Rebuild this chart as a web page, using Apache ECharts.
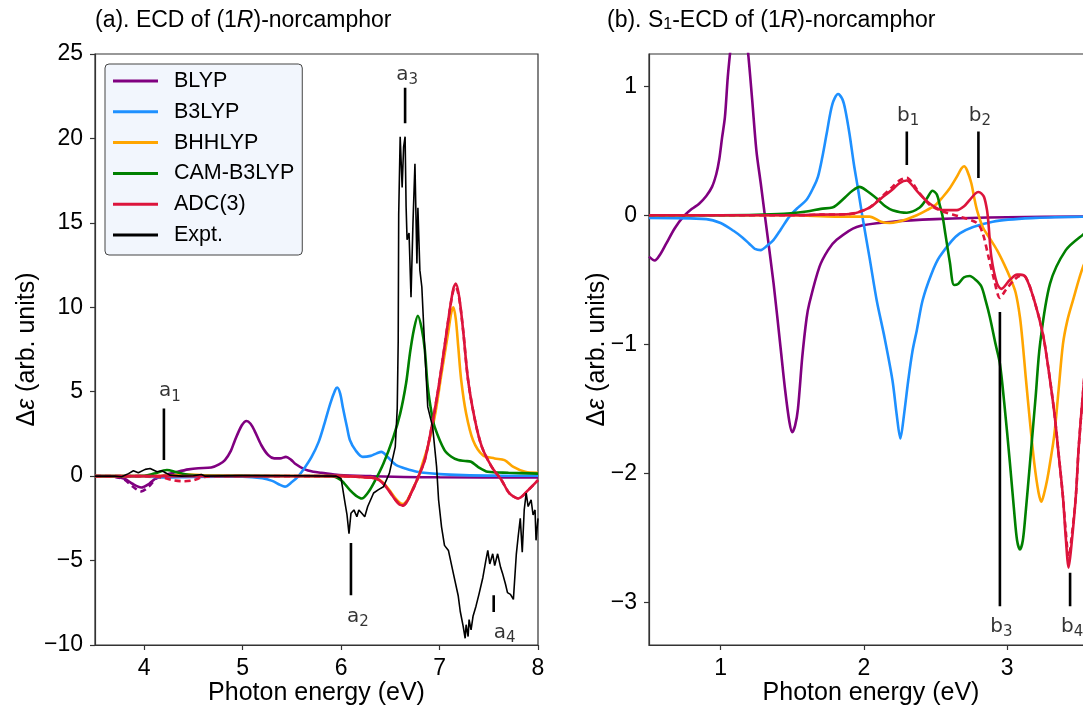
<!DOCTYPE html>
<html><head><meta charset="utf-8">
<script src="https://cdn.jsdelivr.net/npm/echarts@6/dist/echarts.min.js"></script>
<style>html,body{margin:0;padding:0;background:#fff}#c{width:1083px;height:706px}</style>
</head><body><div id="c"></div>
<script>
// ---------- tick values ----------
const xTicksA = [4, 5, 6, 7, 8];
const yTicksA = [-10, -5, 0, 5, 10, 15, 20, 25];
const xTicksB = [1, 2, 3];
const yTicksB = [-3, -2, -1, 0, 1];
const seriesNames = ['BLYP', 'B3LYP', 'BHHLYP', 'CAM-B3LYP', 'ADC(3)', 'Expt.'];

// ---------- panel (a): ECD ----------
const blypA = [[3.5,0],[3.7,-0.03],[3.8,-0.15],[3.88,-0.45],[3.97,-0.67],[4.05,-0.45],[4.12,-0.12],[4.2,0.05],[4.34,0.26],[4.45,0.4],[4.55,0.47],[4.68,0.51],[4.76,0.7],[4.82,0.95],[4.88,1.5],[4.92,2.1],[4.99,3.0],[5.04,3.27],[5.08,3.1],[5.12,2.7],[5.19,1.83],[5.26,1.24],[5.32,1.05],[5.38,1.05],[5.44,1.14],[5.49,0.98],[5.53,0.75],[5.63,0.4],[5.72,0.26],[5.8,0.2],[5.98,0.06],[6.3,0.0],[7,-0.07],[8,-0.08]];
const blypDashA = [[3.7,-0.03],[3.8,-0.2],[3.88,-0.6],[3.97,-0.9],[4.05,-0.6],[4.12,-0.15],[4.2,0.05]];
const b3lypA = [[3.5,0],[4.0,-0.02],[4.2,-0.08],[4.5,-0.05],[5.0,-0.03],[5.2,-0.12],[5.3,-0.28],[5.38,-0.52],[5.43,-0.62],[5.5,-0.35],[5.56,-0.04],[5.63,0.5],[5.7,1.14],[5.77,2.0],[5.83,3.1],[5.89,4.3],[5.94,5.1],[5.96,5.25],[5.99,4.9],[6.02,4.0],[6.06,2.9],[6.09,2.13],[6.15,1.5],[6.22,1.14],[6.3,1.2],[6.36,1.35],[6.41,1.44],[6.47,1.15],[6.52,0.85],[6.56,0.65],[6.65,0.45],[6.77,0.26],[7.0,0.12],[7.24,0.06],[7.6,0.03],[8,0.02]];
const bhhlypA = [[3.5,0],[4.0,0],[4.3,0.05],[4.45,0.1],[4.6,0.05],[5.0,0.02],[6.0,0],[6.2,-0.05],[6.36,-0.14],[6.43,-0.4],[6.49,-0.83],[6.55,-1.3],[6.6,-1.6],[6.63,-1.65],[6.67,-1.45],[6.7,-1.1],[6.74,-0.6],[6.78,-0.14],[6.83,0.8],[6.88,1.73],[6.95,3.5],[7.02,6.07],[7.09,8.6],[7.12,9.7],[7.14,10.0],[7.165,9.3],[7.19,7.65],[7.22,5.68],[7.27,3.71],[7.34,2.13],[7.44,1.24],[7.56,1.05],[7.66,0.95],[7.75,0.55],[7.87,0.26],[8.0,0.2]];
const camA = [[3.5,0],[4.0,0.02],[4.1,0.15],[4.23,0.36],[4.32,0.25],[4.45,0.08],[4.6,0.03],[5.5,0.01],[5.9,0],[6.0,-0.24],[6.09,-0.83],[6.15,-1.15],[6.21,-1.32],[6.27,-1.0],[6.33,-0.43],[6.43,0.75],[6.53,2.3],[6.6,3.7],[6.66,5.5],[6.7,7.3],[6.74,8.7],[6.78,9.5],[6.82,8.7],[6.85,7.5],[6.88,5.3],[6.92,3.7],[6.95,2.92],[7.05,1.54],[7.12,1.15],[7.19,0.95],[7.26,0.9],[7.32,0.85],[7.39,0.55],[7.49,0.26],[7.7,0.2],[8.0,0.15]];
const adcA = [[3.5,0],[4.0,0],[5.0,0],[6.0,0],[6.2,-0.05],[6.36,-0.15],[6.43,-0.45],[6.49,-0.9],[6.55,-1.4],[6.6,-1.7],[6.63,-1.72],[6.67,-1.5],[6.7,-1.15],[6.74,-0.65],[6.78,-0.1],[6.85,0.95],[6.92,2.92],[6.985,5.09],[7.05,7.65],[7.1,9.7],[7.14,11.1],[7.165,11.4],[7.2,10.6],[7.24,8.6],[7.29,5.68],[7.36,3.31],[7.43,1.73],[7.53,0.55],[7.63,-0.24],[7.71,-1.02],[7.8,-1.32],[7.9,-0.83],[8.0,-0.24]];
const adcDashA = [[3.5,0],[4.0,0],[4.2,-0.1],[4.3,-0.25],[4.4,-0.3],[4.5,-0.25],[4.6,-0.05],[4.8,0],[6.0,0],[6.2,-0.05],[6.36,-0.15],[6.43,-0.45],[6.49,-0.9],[6.55,-1.4],[6.6,-1.7],[6.63,-1.75],[6.67,-1.5],[6.7,-1.15],[6.74,-0.65],[6.78,-0.1],[6.85,0.95],[6.92,2.92],[6.985,5.09],[7.05,7.65],[7.1,9.7],[7.14,11.0],[7.165,11.2],[7.2,10.5],[7.24,8.6],[7.29,5.68],[7.36,3.31],[7.43,1.73],[7.53,0.55],[7.63,-0.24],[7.71,-1.02],[7.8,-1.32],[7.9,-0.83],[8.0,-0.24]];
const exptA = [[3.5,0],[3.7,0],[3.77,-0.04],[3.84,0.15],[3.89,0.32],[3.94,0.2],[4.01,0.4],[4.06,0.45],[4.13,0.26],[4.18,0.32],[4.26,0.06],[4.38,0],[4.5,0.02],[4.58,0.1],[4.62,0],[5.0,0.03],[5.5,0.02],[5.95,0.0],[6.0,-0.14],[6.04,-1.6],[6.06,-2.3],[6.08,-3.4],[6.1,-2.2],[6.13,-2.0],[6.16,-2.4],[6.18,-2.0],[6.21,-2.2],[6.24,-2.4],[6.27,-1.8],[6.33,-1.0],[6.38,-0.8],[6.43,-0.63],[6.49,0.16],[6.55,1.73],[6.57,4.0],[6.58,8],[6.585,15.5],[6.6,20.1],[6.62,17.1],[6.635,19.5],[6.65,20.1],[6.66,16],[6.67,14.0],[6.69,14.4],[6.71,10.6],[6.73,15],[6.75,18.5],[6.77,12.6],[6.78,15.9],[6.8,12.2],[6.82,11.2],[6.85,7.5],[6.88,4.1],[6.93,2.9],[6.97,0.55],[6.99,-1.4],[7.02,-3.0],[7.05,-4.1],[7.09,-4.4],[7.14,-5.76],[7.19,-7.1],[7.21,-8.0],[7.24,-8.9],[7.26,-9.6],[7.27,-8.8],[7.29,-9.5],[7.3,-8.5],[7.32,-9.1],[7.34,-8.3],[7.37,-7.7],[7.4,-7.0],[7.44,-6.0],[7.47,-5.0],[7.49,-4.4],[7.51,-5.2],[7.54,-4.6],[7.56,-5.3],[7.59,-4.6],[7.62,-5.4],[7.64,-5.76],[7.67,-6.4],[7.69,-6.9],[7.72,-7.0],[7.75,-7.3],[7.77,-5.5],[7.78,-4.6],[7.8,-3.5],[7.82,-2.5],[7.84,-4.5],[7.86,-2.0],[7.88,-1.0],[7.9,-1.8],[7.93,-1.4],[7.95,-2.3],[7.97,-2.0],[7.98,-3.8],[8.0,-2.5]];

// ---------- panel (b): S1-ECD ----------
const blypB = [[0.5,-0.32],[0.54,-0.35],[0.58,-0.3],[0.62,-0.22],[0.68,-0.1],[0.74,-0.01],[0.8,0.05],[0.85,0.09],[0.9,0.15],[0.94,0.22],[0.97,0.32],[0.99,0.43],[1.01,0.6],[1.03,0.76],[1.05,1.07],[1.07,1.3],[1.1,1.6],[1.13,1.7],[1.16,1.55],[1.19,1.28],[1.22,0.9],[1.25,0.5],[1.28,0.25],[1.31,-0.01],[1.37,-0.53],[1.42,-1.04],[1.45,-1.35],[1.48,-1.6],[1.5,-1.68],[1.52,-1.63],[1.54,-1.5],[1.57,-1.1],[1.6,-0.8],[1.62,-0.68],[1.69,-0.40],[1.75,-0.27],[1.81,-0.19],[1.95,-0.09],[2.2,-0.05],[2.5,-0.03],[3.0,-0.015],[3.6,-0.01]];
const b3lypB = [[0.5,-0.02],[0.9,-0.03],[1.0,-0.06],[1.09,-0.12],[1.15,-0.17],[1.2,-0.22],[1.24,-0.26],[1.28,-0.27],[1.32,-0.24],[1.37,-0.19],[1.42,-0.11],[1.48,-0.01],[1.54,0.06],[1.6,0.12],[1.65,0.22],[1.68,0.3],[1.71,0.45],[1.74,0.63],[1.78,0.86],[1.82,0.94],[1.85,0.9],[1.87,0.82],[1.9,0.63],[1.93,0.4],[1.96,0.2],[1.99,-0.01],[2.04,-0.33],[2.09,-0.66],[2.145,-0.95],[2.2,-1.28],[2.23,-1.55],[2.255,-1.73],[2.28,-1.55],[2.31,-1.28],[2.34,-1.05],[2.37,-0.89],[2.41,-0.66],[2.47,-0.46],[2.53,-0.32],[2.67,-0.14],[2.9,-0.05],[3.2,-0.02],[3.6,-0.01]];
const bhhlypB = [[0.5,0],[1.5,0],[1.8,-0.01],[2.04,-0.01],[2.12,-0.05],[2.18,-0.06],[2.24,-0.05],[2.3,-0.03],[2.37,0],[2.44,0.04],[2.5,0.08],[2.55,0.14],[2.6,0.21],[2.65,0.30],[2.68,0.36],[2.7,0.38],[2.72,0.35],[2.75,0.25],[2.77,0.14],[2.79,0.04],[2.83,-0.09],[2.88,-0.18],[2.93,-0.27],[2.98,-0.38],[3.02,-0.48],[3.06,-0.6],[3.09,-0.79],[3.11,-1.0],[3.13,-1.25],[3.16,-1.6],[3.19,-1.92],[3.22,-2.15],[3.24,-2.22],[3.26,-2.15],[3.28,-2.05],[3.3,-1.92],[3.33,-1.7],[3.36,-1.35],[3.39,-1.0],[3.42,-0.82],[3.46,-0.66],[3.53,-0.40],[3.6,-0.25]];
const camB = [[0.5,0],[1.0,0],[1.4,0.01],[1.6,0.03],[1.7,0.05],[1.78,0.06],[1.81,0.08],[1.87,0.14],[1.92,0.19],[1.97,0.22],[2.02,0.19],[2.09,0.13],[2.15,0.07],[2.2,0.04],[2.3,0.02],[2.39,0.06],[2.44,0.13],[2.48,0.19],[2.51,0.16],[2.53,0.08],[2.55,-0.01],[2.57,-0.15],[2.6,-0.36],[2.63,-0.54],[2.66,-0.53],[2.7,-0.48],[2.74,-0.47],[2.78,-0.5],[2.82,-0.55],[2.85,-0.66],[2.88,-0.79],[2.92,-1.0],[2.95,-1.15],[2.98,-1.45],[3.02,-1.92],[3.05,-2.3],[3.07,-2.52],[3.09,-2.59],[3.11,-2.52],[3.13,-2.3],[3.16,-1.92],[3.2,-1.4],[3.23,-1.0],[3.3,-0.53],[3.41,-0.27],[3.53,-0.15],[3.6,-0.1]];
const adcB = [[0.5,0],[1.5,0],[1.7,0.005],[1.9,0.01],[2.04,0.06],[2.13,0.14],[2.2,0.2],[2.25,0.25],[2.3,0.27],[2.34,0.23],[2.37,0.19],[2.42,0.13],[2.46,0.09],[2.55,0.04],[2.65,0.04],[2.7,0.07],[2.74,0.12],[2.78,0.17],[2.8,0.18],[2.82,0.17],[2.84,0.14],[2.86,0.04],[2.87,-0.06],[2.89,-0.32],[2.93,-0.53],[2.96,-0.57],[3.02,-0.50],[3.07,-0.46],[3.09,-0.46],[3.13,-0.48],[3.19,-0.66],[3.25,-0.92],[3.285,-1.16],[3.33,-1.53],[3.36,-1.85],[3.39,-2.18],[3.41,-2.5],[3.43,-2.73],[3.45,-2.55],[3.48,-2.18],[3.5,-1.8],[3.53,-1.38],[3.56,-1.0],[3.6,-0.65]];
const adcDashB = [[0.5,0],[1.5,0],[1.7,0.005],[1.9,0.01],[2.04,0.06],[2.13,0.15],[2.2,0.22],[2.25,0.27],[2.3,0.29],[2.34,0.25],[2.37,0.2],[2.42,0.13],[2.46,0.08],[2.55,0.03],[2.67,-0.01],[2.79,-0.06],[2.83,-0.14],[2.87,-0.32],[2.91,-0.5],[2.95,-0.64],[2.99,-0.58],[3.05,-0.50],[3.09,-0.47],[3.13,-0.48],[3.19,-0.66],[3.25,-0.92],[3.285,-1.16],[3.33,-1.53],[3.36,-1.85],[3.39,-2.18],[3.41,-2.45],[3.43,-2.65],[3.45,-2.5],[3.48,-2.18],[3.5,-1.8],[3.53,-1.38],[3.56,-1.0],[3.6,-0.65]];

// ---------- annotations (data coordinates) ----------
const annotA = [
  {t:'a', s:'1', x:4.2,  y0:0.95,  y1:4.0,   lx:4.26, ly:5.15},
  {t:'a', s:'2', x:6.1,  y0:-3.96, y1:-7.05, lx:6.17, ly:-8.22},
  {t:'a', s:'3', x:6.65, y0:20.9,  y1:23.0,  lx:6.67, ly:23.9},
  {t:'a', s:'4', x:7.55, y0:-7.05, y1:-8.05, lx:7.66, ly:-9.15}
];
const annotB = [
  {t:'b', s:'1', x:2.30, y0:0.39,  y1:0.65,  lx:2.31, ly:0.787},
  {t:'b', s:'2', x:2.80, y0:0.29,  y1:0.65,  lx:2.81, ly:0.787},
  {t:'b', s:'3', x:2.95, y0:-0.75, y1:-3.03, lx:2.96, ly:-3.17},
  {t:'b', s:'4', x:3.44, y0:-2.77, y1:-3.03, lx:3.455, ly:-3.17}
];

const FONT = 'Liberation Sans, Arial, Helvetica, sans-serif';
const COLORS = {'BLYP':'#800080','B3LYP':'#1e90ff','BHHLYP':'#ffa500','CAM-B3LYP':'#008000','ADC(3)':'#dc143c','Expt.':'#000000'};
const minusFmt = v => (v < 0 ? '\u2212' : '') + Math.abs(v);

function curve(name, data, gi, opt) {
  opt = opt || {};
  const color = COLORS[opt.colorKey || name];
  return {
    type: 'line', name, data, xAxisIndex: gi, yAxisIndex: gi,
    symbol: 'none', showSymbol: false,
    smooth: opt.smooth === undefined ? 0.3 : opt.smooth,
    clip: true,
    lineStyle: {color, width: opt.width || 2.6, type: opt.dash ? [6, 4] : 'solid'},
    itemStyle: {color},
    z: opt.z || 2,
    emphasis: {disabled: true},
    animation: false
  };
}
function annotSeries(list, gi) {
  const out = [];
  list.forEach(a => {
    out.push({
      type: 'line', name: 'annot', data: [[a.x, a.y0], [a.x, a.y1]],
      xAxisIndex: gi, yAxisIndex: gi, symbol: 'none', smooth: false,
      lineStyle: {color: '#000', width: 2.6}, z: 5, animation: false, emphasis: {disabled: true}
    });
  });
  out.push({
    type: 'scatter', name: 'annotLabel', xAxisIndex: gi, yAxisIndex: gi,
    symbolSize: 1, itemStyle: {color: 'rgba(0,0,0,0)'}, z: 6, animation: false,
    data: list.map(a => ({value: [a.lx, a.ly], t: a.t, s: a.s})),
    label: {
      show: true, position: 'inside',
      formatter: p => '{m|' + p.data.t + '}{s|' + p.data.s + '}',
      rich: {
        m: {fontSize: 20, fontFamily: 'DejaVu Sans', color: '#000', verticalAlign: 'bottom', lineHeight: 24},
        s: {fontSize: 15, fontFamily: 'DejaVu Sans', color: '#000', verticalAlign: 'bottom', lineHeight: 24, padding: [0, 0, -3, 0]}
      }
    },
    emphasis: {disabled: true}
  });
  return out;
}

const axisCommon = {
  axisLine: {show: true, onZero: false, lineStyle: {color: '#333', width: 1.2}},
  splitLine: {show: false}
};
function xAx(gi, min, max, ticks) {
  return Object.assign({}, axisCommon, {
    type: 'value', gridIndex: gi, min, max,
    axisTick: {show: true, inside: false, length: 5, lineStyle: {color: '#333', width: 1.2}, customValues: ticks},
    axisLabel: {show: true, customValues: ticks, fontSize: 23, fontFamily: FONT, color: '#000', margin: 12, formatter: minusFmt},
    name: 'Photon energy (eV)', nameLocation: 'middle', nameGap: 36, nameMoveOverlap: false,
    nameTextStyle: {fontSize: 25, fontFamily: FONT, color: '#000'}
  });
}
function yAx(gi, min, max, ticks, gap) {
  return Object.assign({}, axisCommon, {
    type: 'value', gridIndex: gi, min, max,
    axisTick: {show: true, inside: false, length: 5, lineStyle: {color: '#333', width: 1.2}, customValues: ticks},
    axisLabel: {show: true, customValues: ticks, fontSize: 23, fontFamily: FONT, color: '#000', margin: 12, formatter: minusFmt},
    name: '{n|\u0394}{e|\u03b5}{n| (arb. units)}', nameLocation: 'middle', nameGap: gap, nameRotate: 90, nameMoveOverlap: false,
    nameTextStyle: {fontSize: 25, fontFamily: FONT, color: '#000',
      rich: {n: {fontSize: 25, fontFamily: FONT, color: '#000'}, e: {fontSize: 25, fontFamily: FONT, color: '#000', fontStyle: 'italic'}}}
  });
}

const series = [
  curve('BLYP', blypA, 0), curve('BLYP dashed', blypDashA, 0, {colorKey: 'BLYP', dash: true}),
  curve('B3LYP', b3lypA, 0),
  curve('BHHLYP', bhhlypA, 0),
  curve('CAM-B3LYP', camA, 0),
  curve('ADC(3)', adcA, 0), curve('ADC(3) dashed', adcDashA, 0, {colorKey: 'ADC(3)', dash: true, z: 3}),
  curve('Expt.', exptA, 0, {smooth: false, width: 1.6, z: 4}),
  curve('BLYP', blypB, 1),
  curve('B3LYP', b3lypB, 1),
  curve('BHHLYP', bhhlypB, 1),
  curve('CAM-B3LYP', camB, 1),
  curve('ADC(3)', adcB, 1), curve('ADC(3) dashed', adcDashB, 1, {colorKey: 'ADC(3)', dash: true, z: 3})
].concat(annotSeries(annotA, 0), annotSeries(annotB, 1));

const chart = echarts.init(document.getElementById('c'), null, {renderer: 'canvas'});
chart.setOption({
  animation: false,
  backgroundColor: '#fff',
  grid: [
    {left: 95, top: 54, width: 443, height: 591, show: true, borderColor: '#333', borderWidth: 1.2, containLabel: false, outerBoundsMode: 'none'},
    {left: 649, top: 54, width: 444, height: 591, show: true, borderColor: '#333', borderWidth: 1.2, containLabel: false, outerBoundsMode: 'none'}
  ],
  xAxis: [xAx(0, 3.5, 8, xTicksA), xAx(1, 0.5, 3.6, xTicksB)],
  yAxis: [yAx(0, -10, 25, yTicksA, 55), yAx(1, -3.33, 1.25, yTicksB, 39)],
  legend: {
    show: true, orient: 'vertical', left: 105, top: 64,
    data: seriesNames, icon: 'rect', itemWidth: 45, itemHeight: 3, itemGap: 8.8,
    backgroundColor: '#f2f6fd', borderColor: '#444', borderWidth: 1, borderRadius: 4,
    padding: [6, 8, 9, 8],
    textStyle: {fontSize: 21.5, fontFamily: FONT, color: '#000', lineHeight: 22, padding: [0, 0, 0, 11]},
    selectedMode: false
  },
  graphic: [
    {type: 'text', left: 95, top: 9, style: {text: '(a). ECD of (1{i|R})-norcamphor', fontSize: 23, fontFamily: FONT, fill: '#000',
      rich: {i: {fontSize: 23, fontFamily: FONT, fill: '#000', fontStyle: 'italic'}}}},
    {type: 'text', left: 607, top: 9, style: {text: '(b). S{s|1}-ECD of (1{i|R})-norcamphor', fontSize: 23, fontFamily: FONT, fill: '#000',
      rich: {i: {fontSize: 23, fontFamily: FONT, fill: '#000', fontStyle: 'italic'},
             s: {fontSize: 16, fontFamily: FONT, fill: '#000', padding: [9, 0, 0, 0]}}}}
  ],
  series
});
</script>
</body></html>
